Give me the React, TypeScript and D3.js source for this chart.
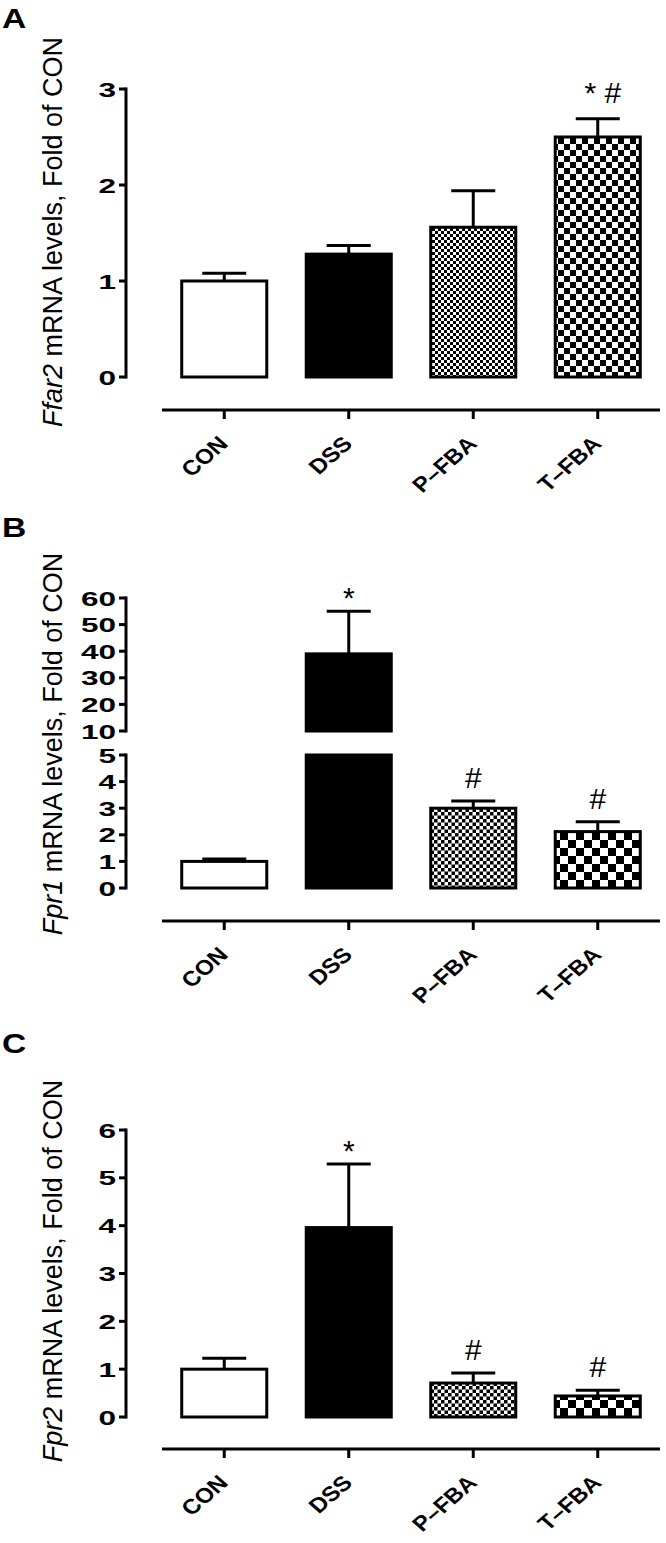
import React from 'react';
import * as d3 from 'd3';

const categories = ['CON', 'DSS', 'P\u2013FBA', 'T\u2013FBA'];

const ffar2Mean = [1.0, 1.28, 1.56, 2.5];
const ffar2Sem = [0.08, 0.09, 0.38, 0.19];
const ffar2Marks = ['', '', '', '* #'];
const ffar2Ticks = [0, 1, 2, 3];

const fpr1Mean = [1.0, 39, 3.0, 2.12];
const fpr1Sem = [0.09, 16, 0.27, 0.37];
const fpr1Marks = ['', '*', '#', '#'];
const fpr1LowTicks = [0, 1, 2, 3, 4, 5];
const fpr1HighTicks = [10, 20, 30, 40, 50, 60];

const fpr2Mean = [1.0, 3.96, 0.71, 0.44];
const fpr2Sem = [0.23, 1.33, 0.21, 0.12];
const fpr2Marks = ['', '*', '#', '#'];
const fpr2Ticks = [0, 1, 2, 3, 4, 5, 6];

type Segment = { domain: [number, number]; range: [number, number]; ticks: number[] };
type PanelCfg = {
  id: string;
  letter: string;
  letterY: number;
  gene: string;
  labelCenter: number;
  xAxisY: number;
  segments: Segment[];
  mean: number[];
  sem: number[];
  marks: string[];
  fine: number;
  coarse: number;
};

const panels: PanelCfg[] = [
  {
    id: 'a', letter: 'A', letterY: 28, gene: 'Ffar2', labelCenter: 232, xAxisY: 410,
    segments: [{ domain: [0, 3], range: [377, 89], ticks: ffar2Ticks }],
    mean: ffar2Mean, sem: ffar2Sem, marks: ffar2Marks, fine: 3, coarse: 6,
  },
  {
    id: 'b', letter: 'B', letterY: 537, gene: 'Fpr1', labelCenter: 744, xAxisY: 921,
    segments: [
      { domain: [0, 5], range: [888, 755], ticks: fpr1LowTicks },
      { domain: [10, 60], range: [731, 598], ticks: fpr1HighTicks },
    ],
    mean: fpr1Mean, sem: fpr1Sem, marks: fpr1Marks, fine: 3.5, coarse: 8,
  },
  {
    id: 'c', letter: 'C', letterY: 1053, gene: 'Fpr2', labelCenter: 1271, xAxisY: 1449,
    segments: [{ domain: [0, 6], range: [1417, 1130], ticks: fpr2Ticks }],
    mean: fpr2Mean, sem: fpr2Sem, marks: fpr2Marks, fine: 3.5, coarse: 8,
  },
];

const FONT = '"Liberation Sans", Arial, Helvetica, sans-serif';
const AXIS_X = 126;
const SW = 3;

const xScale = d3.scaleBand<string>().domain(categories).range([162, 660]).paddingInner(0.317).paddingOuter(0.1585);

const markOffset: Record<string, number> = { '*': 3, '#': 13, '* #': 16 };

function Panel({ p }: { p: PanelCfg }) {
  const scales = p.segments.map((s) => ({ seg: s, y: d3.scaleLinear().domain(s.domain).range(s.range) }));
  const fills = ['white', 'black', `url(#fine-${p.id})`, `url(#coarse-${p.id})`];
  const findScale = (v: number) => {
    const f = scales.find((s) => v >= s.seg.domain[0] && v <= s.seg.domain[1]);
    return f ? f.y : scales[scales.length - 1].y;
  };
  const bw = xScale.bandwidth();
  return (
    <g>
      <defs>
        <pattern id={`fine-${p.id}`} patternUnits="userSpaceOnUse" width={p.fine * 2} height={p.fine * 2}>
          <rect width={p.fine * 2} height={p.fine * 2} fill="white" />
          <rect width={p.fine} height={p.fine} fill="black" />
          <rect x={p.fine} y={p.fine} width={p.fine} height={p.fine} fill="black" />
        </pattern>
        <pattern id={`coarse-${p.id}`} patternUnits="userSpaceOnUse" width={p.coarse * 2} height={p.coarse * 2}>
          <rect width={p.coarse * 2} height={p.coarse * 2} fill="white" />
          <rect width={p.coarse} height={p.coarse} fill="black" />
          <rect x={p.coarse} y={p.coarse} width={p.coarse} height={p.coarse} fill="black" />
        </pattern>
      </defs>
      <text transform={`translate(2,${p.letterY}) scale(1.2,1)`} fontFamily={FONT} fontWeight="bold" fontSize={28}>
        {p.letter}
      </text>
      <text
        transform={`translate(62,${p.labelCenter}) rotate(-90)`}
        textAnchor="middle"
        fontFamily={FONT}
        fontSize={27}
      >
        <tspan fontStyle="italic">{p.gene}</tspan>
        <tspan> mRNA levels, Fold of CON</tspan>
      </text>
      {scales.map(({ seg, y }, si) => (
        <g key={si}>
          <line x1={AXIS_X} x2={AXIS_X} y1={y(seg.domain[0])} y2={y(seg.domain[1])} stroke="black" strokeWidth={SW} strokeLinecap="square" />
          {seg.ticks.map((t) => (
            <g key={t}>
              <line x1={AXIS_X - 7} x2={AXIS_X} y1={y(t)} y2={y(t)} stroke="black" strokeWidth={SW} />
              <text
                transform={`translate(116,${y(t) + 7.5}) scale(1.5,1)`}
                textAnchor="end"
                fontFamily={FONT}
                fontWeight="bold"
                fontSize={21}
              >
                {t}
              </text>
            </g>
          ))}
        </g>
      ))}
      {categories.map((c, i) => {
        const x0 = xScale(c)!;
        const v = p.mean[i];
        const parts = scales
          .filter(({ seg }) => v > seg.domain[0])
          .map(({ seg, y }, k) => {
            const top = Math.min(v, seg.domain[1]);
            return (
              <rect
                key={k}
                x={x0}
                y={y(top)}
                width={bw}
                height={y(seg.domain[0]) - y(top)}
                fill={fills[i]}
                stroke="black"
                strokeWidth={SW}
              />
            );
          });
        const ys = findScale(v);
        const yTop = ys(v);
        const yErr = ys(v + p.sem[i]);
        const cx = x0 + bw / 2;
        const mark = p.marks[i];
        return (
          <g key={c}>
            <line x1={cx} x2={cx} y1={yTop} y2={yErr} stroke="black" strokeWidth={SW} />
            <line x1={cx - 22} x2={cx + 22} y1={yErr} y2={yErr} stroke="black" strokeWidth={SW} />
            {parts}
            {mark && (
              <text
                x={cx + (mark.length > 1 ? 5 : 0)}
                y={yErr - (markOffset[mark] ?? 5)}
                textAnchor="middle"
                fontFamily={FONT}
                fontSize={30}
              >
                {mark}
              </text>
            )}
          </g>
        );
      })}
      <line x1={162} x2={660} y1={p.xAxisY} y2={p.xAxisY} stroke="black" strokeWidth={SW} />
      {categories.map((c) => {
        const cx = xScale(c)! + bw / 2;
        return (
          <g key={c}>
            <line x1={cx} x2={cx} y1={p.xAxisY} y2={p.xAxisY + 9} stroke="black" strokeWidth={SW} />
            <text
              transform={`translate(${cx + 5},${p.xAxisY + 35}) scale(1.15,1) rotate(-45)`}
              textAnchor="end"
              fontFamily={FONT}
              fontWeight="bold"
              fontSize={21}
            >
              {c}
            </text>
          </g>
        );
      })}
    </g>
  );
}

export default function App() {
  return (
    <svg
      width={666}
      height={1543}
      viewBox="0 0 666 1543"
      style={{ position: 'absolute', left: 0, top: 0, display: 'block', background: 'white' }}
    >
      <rect width={666} height={1543} fill="white" />
      {panels.map((p) => (
        <Panel key={p.id} p={p} />
      ))}
    </svg>
  );
}
